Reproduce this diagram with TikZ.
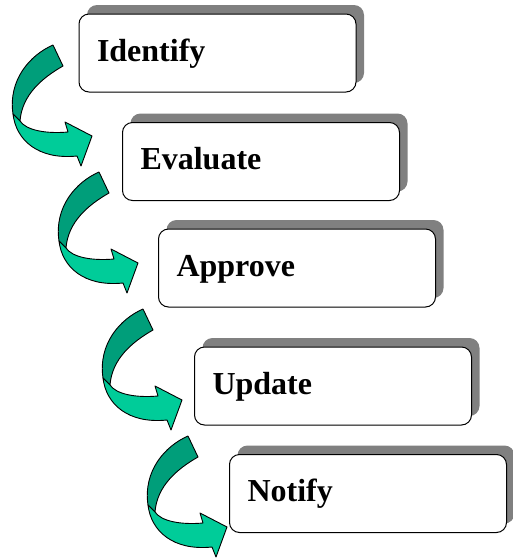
\documentclass[tikz,border=0pt]{standalone}
\usepackage{fontspec}
\setmainfont{Liberation Serif}
\usetikzlibrary{shadows}
\definecolor{arrowdark}{RGB}{0,158,122}
\definecolor{arrowlight}{RGB}{0,204,153}
\definecolor{shadowgray}{RGB}{128,128,128}
\tikzset{
  stepbox/.style={draw=black, line width=1pt, fill=white, rounded corners=10pt,
    minimum width=277pt, minimum height=78pt, inner xsep=18pt, inner ysep=0pt,
    text width=241pt, align=left, text height=23pt, text depth=7pt,
    font=\fontsize{32}{38}\selectfont\bfseries,
    general shadow={fill=shadowgray, shadow xshift=8pt, shadow yshift=9pt}},
  arrowpart/.style={draw=black, line width=0.9pt, line join=round},
  twistarrow/.pic={
    \path[arrowpart, fill=arrowdark] (53,45) .. controls (30,55) and (8,80) .. (13,114)
      -- (20,121) .. controls (22,95) and (42,78) .. (63,66) -- cycle;
    \path[arrowpart, fill=arrowlight] (13,114) .. controls (16,140) and (38,160) .. (77,156)
      -- (81,166) -- (92,136) -- (65,122) -- (68,132)
      .. controls (45,134) and (26,130) .. (20,121) -- cycle;
  }
}
\begin{document}
\begin{tikzpicture}[x=1pt, y=-1pt]
\useasboundingbox (0,0) rectangle (513,558);
\node[stepbox] (identify) at (217.5,53) {Identify};
\node[stepbox] (evaluate) at (261,161.5) {Evaluate};
\node[stepbox] (approve) at (297,268) {Approve};
\node[stepbox] (update) at (333,386) {Update};
\node[stepbox] (notify) at (368,493.5) {Notify};
\pic at (0,0) {twistarrow};
\pic at (46,127) {twistarrow};
\pic at (90,264) {twistarrow};
\pic at (135,391) {twistarrow};
\end{tikzpicture}
\end{document}
